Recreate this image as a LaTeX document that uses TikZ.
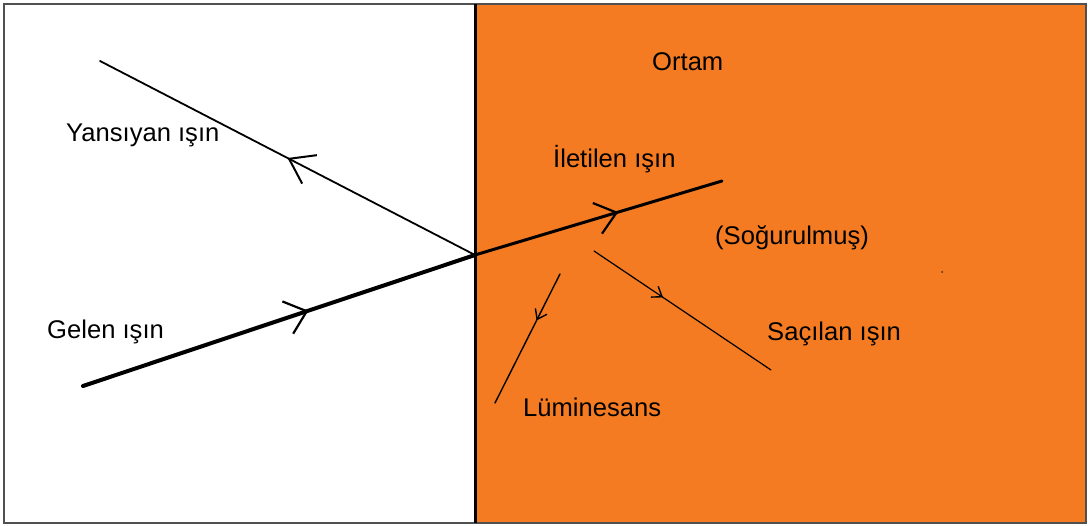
\documentclass[tikz,border=0pt]{standalone}
\usepackage{fontspec}
\setmainfont{Liberation Sans}
\usetikzlibrary{arrows.meta,decorations.markings}
\definecolor{ortam}{RGB}{245,123,34}
\definecolor{frame}{RGB}{80,80,80}
\tikzset{
  lbl/.style={anchor=base west,inner sep=0pt,font=\fontsize{25.6}{29}\selectfont},
  ray/.style={draw=black,line cap=round},
  midarrow/.style 2 args={postaction={decorate,decoration={markings,
      mark=at position #1 with {\arrow{#2}}}}}
}
\begin{document}
\begin{tikzpicture}[x=1pt,y=-1pt]
\useasboundingbox (0,0) rectangle (1088,526);
% background halves
\fill[white] (4,4) rectangle (475,523);
\fill[ortam] (475,4) rectangle (1086,523);
\draw[frame,line width=1.6pt] (4,4) rectangle (1086,523);
% interface
\coordinate (top) at (475,4);
\coordinate (bot) at (475,523);
\draw[black,line width=3pt] (top) -- (bot);
% points
\coordinate (O) at (475,255);
\coordinate (inc) at (83,386);
\coordinate (refl) at (100,61);
\coordinate (trans) at (722,181);
\coordinate (scA) at (594,251);
\coordinate (scB) at (771,370);
\coordinate (luA) at (560,274);
\coordinate (luB) at (495,403);
% rays
\draw[ray,line width=4pt,midarrow={0.575}{Straight Barb[length=20pt,width=34pt,line width=2.2pt]}] (inc) -- (O);
\draw[ray,line width=3pt,midarrow={0.58}{Straight Barb[length=20pt,width=32pt,line width=2.2pt]}] (O) -- (trans);
\draw[ray,line width=1.8pt,midarrow={0.5}{Straight Barb[length=23pt,width=32pt,line width=2pt]}] (O) -- (refl);
\draw[ray,line width=1.2pt,midarrow={0.39}{Straight Barb[length=9pt,width=13pt,line width=1.4pt]}] (scA) -- (scB);
\draw[ray,line width=1.4pt,midarrow={0.36}{Straight Barb[length=9pt,width=13pt,line width=1.4pt]}] (luA) -- (luB);
\fill[black!80] (942,272) circle (1);
% labels
\node[lbl] (l1) at (652,71) {Ortam};
\node[lbl] (l2) at (66,142) {Yansıyan ışın};
\node[lbl] (l3) at (553,168) {İletilen ışın};
\node[lbl] (l4) at (715,245) {(Soğurulmuş)};
\node[lbl] (l5) at (47,339) {Gelen ışın};
\node[lbl] (l6) at (767,341) {Saçılan ışın};
\node[lbl] (l7) at (523,417) {Lüminesans};
\end{tikzpicture}
\end{document}
